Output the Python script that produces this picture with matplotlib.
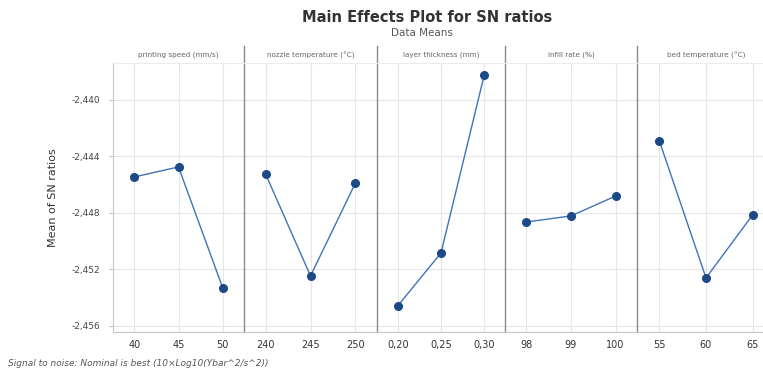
import matplotlib
matplotlib.use("Agg")
import matplotlib.pyplot as plt
from matplotlib.ticker import FixedLocator, FuncFormatter
from matplotlib.lines import Line2D

# ---- data ----
factors = ["printing speed (mm/s)", "nozzle temperature (°C)", "layer thickness (mm)",
           "infill rate (%)", "bed temperature (°C)"]
levels = [["40", "45", "50"], ["240", "245", "250"], ["0,20", "0,25", "0,30"],
          ["98", "99", "100"], ["55", "60", "65"]]
sn_printing_speed = [-2.44545, -2.44474, -2.45331]
sn_nozzle_temp = [-2.44524, -2.45246, -2.44588]
sn_layer_thickness = [-2.45458, -2.45083, -2.43823]
sn_infill_rate = [-2.44864, -2.44821, -2.44680]
sn_bed_temp = [-2.44290, -2.45260, -2.44814]
series = [sn_printing_speed, sn_nozzle_temp, sn_layer_thickness, sn_infill_rate, sn_bed_temp]
yticks = [-2.440, -2.444, -2.448, -2.452, -2.456]

W, H = 763, 371
fig = plt.figure(figsize=(W / 100, H / 100), dpi=100)
fig.patch.set_facecolor("white")

bounds = [113, 244, 377, 505, 637, 775]
top_px, bot_px = 63, 332
ylim = (-2.45643, -2.43738)

fmt = FuncFormatter(lambda v, p: f"{v:.3f}".replace(".", ","))
line_col = "#3f73b8"
mark_col = "#1b4a86"
grid_col = "#e6e6e6"

for i in range(5):
    l, r = bounds[i], bounds[i + 1]
    ax = fig.add_axes([l / W, 1 - bot_px / H, (r - l) / W, (bot_px - top_px) / H])
    xs = list(range(len(levels[i])))
    ax.plot(xs, series[i], color=line_col, lw=1.0, zorder=3)
    ax.plot(xs, series[i], "o", color=mark_col, ms=5.5, zorder=4)
    ax.set_xlim(-0.48, 2.48)
    ax.set_ylim(*ylim)
    ax.set_xticks(xs)
    ax.set_xticklabels(levels[i], fontsize=7, color="#333333")
    ax.yaxis.set_major_locator(FixedLocator(yticks))
    ax.yaxis.set_major_formatter(fmt)
    ax.grid(True, color=grid_col, lw=0.8, zorder=0)
    ax.tick_params(axis="x", length=0, pad=6)
    ax.tick_params(axis="y", length=3, color="#bbbbbb", labelsize=6.5, labelcolor="#444444", pad=6)
    for s in ["top", "right"]:
        ax.spines[s].set_visible(False)
    ax.spines["bottom"].set_color("#c8c8c8")
    if i == 0:
        ax.spines["left"].set_color("#c8c8c8")
        ax.set_ylabel("Mean of SN ratios", fontsize=8, color="#333333", labelpad=10)
    else:
        ax.spines["left"].set_color("#8a8a8a")
        ax.spines["left"].set_linewidth(1.0)
        ax.tick_params(axis="y", left=False, labelleft=False)
        # separator extends into header strip
        fig.add_artist(Line2D([l / W, l / W], [1 - top_px / H, 1 - 46 / H],
                              color="#8a8a8a", lw=1.0))
    ax.text(0.5, 1 + 8 / (bot_px - top_px), factors[i], transform=ax.transAxes,
            ha="center", va="center", fontsize=5.2, color="#666666")

# header strip bottom line
fig.add_artist(Line2D([bounds[0] / W, 1], [1 - top_px / H, 1 - top_px / H],
                      color="#ececec", lw=0.8))

fig.text(427 / W, 1 - 18 / H, "Main Effects Plot for SN ratios", ha="center", va="center",
         fontsize=10.5, fontweight="bold", color="#333333")
fig.text(422 / W, 1 - 33 / H, "Data Means", ha="center", va="center",
         fontsize=7.5, color="#555555")
fig.text(8 / W, 1 - 364 / H, "Signal to noise: Nominal is best (10×Log10(Ybar^2/s^2))",
         ha="left", va="center", fontsize=6.5, style="italic", color="#555555")

fig.savefig("out.png", dpi=100, facecolor="white")
